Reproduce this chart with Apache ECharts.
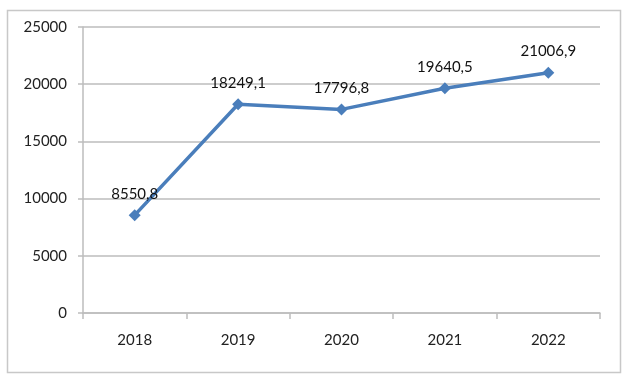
<!DOCTYPE html>
<html><head><meta charset="utf-8">
<script src="https://cdn.jsdelivr.net/npm/echarts@6/dist/echarts.min.js"></script>
<style>html,body{margin:0;padding:0;background:#fff}#c{width:624px;height:380px}</style>
</head><body><div id="c"></div>
<script>
const categories = ['2018', '2019', '2020', '2021', '2022'];
const values = [8550.8, 18249.1, 17796.8, 19640.5, 21006.9];
const yTicks = [0, 5000, 10000, 15000, 20000, 25000];

const chart = echarts.init(document.getElementById('c'), null, {renderer: 'canvas'});
const font = 'Lato, "Liberation Sans", sans-serif';
chart.setOption({
  animation: false,
  textStyle: {fontFamily: font},
  graphic: [{
    type: 'rect', left: 5, top: 8,
    shape: {width: 613, height: 362},
    style: {fill: 'none', stroke: '#c8c8c8', lineWidth: 1.5}
  }],
  grid: {left: 83, right: 24, top: 27, bottom: 67},
  xAxis: {
    type: 'category', data: categories, boundaryGap: true,
    axisLine: {lineStyle: {color: '#bdbdbd', width: 1.5}},
    axisTick: {show: true, alignWithLabel: false, length: 6, lineStyle: {color: '#bdbdbd', width: 1.5}},
    axisLabel: {color: '#222', fontSize: 15, margin: 20, fontFamily: font}
  },
  yAxis: {
    type: 'value', min: yTicks[0], max: yTicks[yTicks.length - 1], interval: 5000,
    axisLine: {show: true, lineStyle: {color: '#bdbdbd', width: 1.5}},
    axisTick: {show: true, length: 5, lineStyle: {color: '#bdbdbd', width: 1.5}},
    splitLine: {lineStyle: {color: '#bdbdbd', width: 1.5}},
    axisLabel: {color: '#222', fontSize: 15, margin: 16, fontFamily: font, formatter: v => String(v)}
  },
  series: [{
    type: 'line', data: values,
    symbol: 'diamond', symbolSize: 12,
    lineStyle: {color: '#4a7ebb', width: 3.5},
    itemStyle: {color: '#4a7ebb'},
    label: {
      show: true, position: 'top', distance: 8, color: '#111', fontSize: 15, fontFamily: font,
      formatter: p => String(p.value).replace('.', ',')
    }
  }]
});
</script></body></html>
